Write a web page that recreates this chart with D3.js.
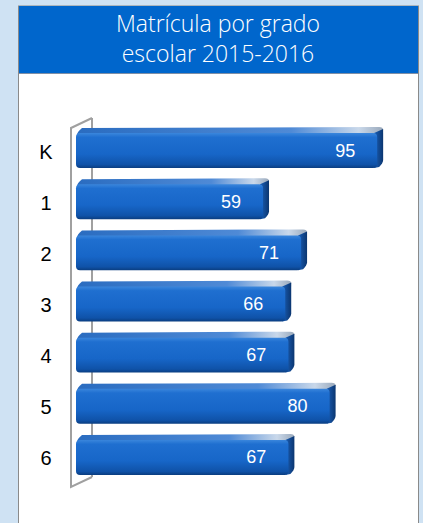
<!DOCTYPE html>
<html>
<head>
<meta charset="utf-8">
<script src="https://cdn.jsdelivr.net/npm/d3@7"></script>
<style>
  html, body { margin: 0; padding: 0; background: #cfe2f3; }
  svg { display: block; }
</style>
</head>
<body>
<svg width="423" height="523"></svg>
<script>
// grados y matricula 2015-2016
const grades = ['K', '1', '2', '3', '4', '5', '6'];
const enrolment = [95, 59, 71, 66, 67, 80, 67];
const titleLines = ['Matrícula por grado', 'escolar 2015-2016'];

const data = grades.map((g, i) => ({grade: g, value: enrolment[i]}));

const svg = d3.select('svg');
const depth = 6; // 3d offset

// panel
svg.append('rect').attr('x', 18.5).attr('y', 6).attr('width', 400).attr('height', 530)
  .attr('fill', '#fff').attr('stroke', '#8a8a8a');
svg.append('rect').attr('x', 19).attr('y', 6).attr('width', 399).attr('height', 67)
  .attr('fill', '#0066cc');
svg.append('line').attr('x1', 19).attr('x2', 418).attr('y1', 73.5).attr('y2', 73.5)
  .attr('stroke', '#7f8fa6');

svg.selectAll('.title')
  .data(titleLines)
  .enter()
  .append('text')
  .attr('class', 'title')
  .attr('x', 218)
  .attr('y', (d, i) => 32 + i * 30)
  .attr('text-anchor', 'middle')
  .attr('fill', '#fff')
  .style('font-family', '"Open Sans", sans-serif')
  .style('font-weight', 300)
  .style('font-size', '23px')
  .text(d => d);

// gradients
const defs = svg.append('defs');
const frontGrad = defs.append('linearGradient').attr('id', 'front')
  .attr('x1', 0).attr('x2', 0).attr('y1', 0).attr('y2', 1);
[[0, '#3a86dc'], [0.12, '#1f6fd0'], [0.6, '#1766c8'], [0.9, '#0f52a8'], [1, '#0a3d80']]
  .forEach(s => frontGrad.append('stop').attr('offset', s[0]).attr('stop-color', s[1]));
const topGrad = defs.append('linearGradient').attr('id', 'topface')
  .attr('x1', 0).attr('x2', 1).attr('y1', 0).attr('y2', 0);
[[0, '#2a6cc0'], [0.7, '#4f8ad6'], [0.92, '#c9d8ea'], [1, '#9aa9bb']]
  .forEach(s => topGrad.append('stop').attr('offset', s[0]).attr('stop-color', s[1]));
const sideGrad = defs.append('linearGradient').attr('id', 'side')
  .attr('x1', 0).attr('x2', 1).attr('y1', 0).attr('y2', 0);
[[0, '#1a5fb8'], [1, '#0b3670']]
  .forEach(s => sideGrad.append('stop').attr('offset', s[0]).attr('stop-color', s[1]));

const xScale = d3.scaleLinear()
  .domain([0, 100])
  .range([76, 393]);

const yScale = d3.scaleBand()
  .domain(grades)
  .range([122, 480])
  .paddingInner(0.2)
  .paddingOuter(0.1);

// wall (3d axis)
const wTop = yScale.range()[0] + 6, wBot = yScale.range()[1] + 7;
const wall = svg.append('g').attr('fill', 'none').attr('stroke', '#a0a0a0').attr('stroke-width', 2);
wall.append('path')
  .attr('d', `M92,${wTop - 10}L92,${wBot - 10}`);
wall.append('path')
  .attr('d', `M92,${wTop - 10}L71,${wTop}L71,${wBot}L92,${wBot - 10}`);

const bars = svg.selectAll('.bar')
  .data(data)
  .enter()
  .append('g')
  .classed('bar', true);

// top face
bars.append('path')
  .attr('fill', 'url(#topface)')
  .attr('d', d => {
    const x0 = xScale(0) + 1, x1 = xScale(d.value), y0 = yScale(d.grade) + depth;
    return `M${x0},${y0 + 2}Q${x0},${y0 - 1} ${x0 + 5},${y0 - depth + 1}L${x1 + depth - 4},${y0 - depth}Q${x1 + depth},${y0 - depth} ${x1 + depth},${y0 - depth + 3}L${x1},${y0 + 2}Z`;
  });

// side face
bars.append('path')
  .attr('fill', 'url(#side)')
  .attr('d', d => {
    const x1 = xScale(d.value), y0 = yScale(d.grade) + depth, y1 = yScale(d.grade) + yScale.bandwidth();
    return `M${x1 - 3},${y0}L${x1 + depth},${y0 - depth + 2}L${x1 + depth},${y1 - depth - 2}Q${x1 + depth},${y1 - depth + 1} ${x1 + 2},${y1 - 1}L${x1 - 3},${y1}Z`;
  });

// front face
bars.append('rect')
  .attr('x', xScale(0))
  .attr('y', d => yScale(d.grade) + depth)
  .attr('width', d => xScale(d.value) - xScale(0))
  .attr('height', yScale.bandwidth() - depth)
  .attr('rx', 4)
  .attr('fill', 'url(#front)');

bars.append('text')
  .attr('x', d => xScale(d.value) - 32)
  .attr('y', d => yScale(d.grade) + depth + (yScale.bandwidth() - depth) / 2 + 6)
  .attr('text-anchor', 'middle')
  .attr('fill', '#fff')
  .style('font-family', '"Liberation Sans", Arial, sans-serif')
  .style('font-size', '18px')
  .text(d => d.value);

svg.selectAll('.cat')
  .data(grades)
  .enter()
  .append('text')
  .attr('class', 'cat')
  .attr('x', 46)
  .attr('y', d => yScale(d) + yScale.bandwidth() / 2 + 11)
  .attr('text-anchor', 'middle')
  .attr('fill', '#000')
  .style('font-family', '"Liberation Sans", Arial, sans-serif')
  .style('font-size', '20px')
  .text(d => d);
</script>
</body>
</html>
